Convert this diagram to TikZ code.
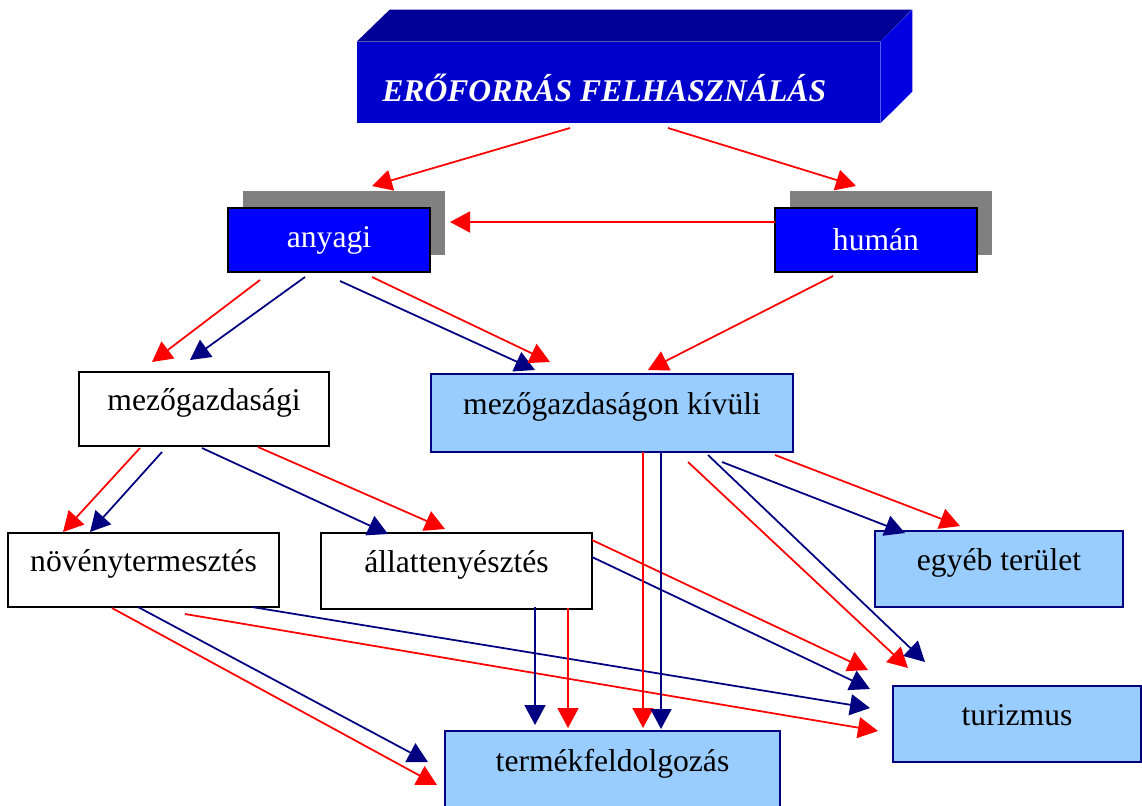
\documentclass[tikz,border=0pt]{standalone}
\usepackage{fontspec}
\setmainfont{Liberation Serif}
\usetikzlibrary{arrows.meta,calc,shadows}
\definecolor{redline}{RGB}{255,0,0}
\definecolor{navyline}{RGB}{0,0,128}
\definecolor{boxblue}{RGB}{0,0,255}
\definecolor{lightbox}{RGB}{153,204,255}
\definecolor{ttfront}{RGB}{0,0,204}
\definecolor{tttop}{RGB}{0,0,150}
\definecolor{ttside}{RGB}{0,0,225}
\begin{document}
\begin{tikzpicture}[x=0.02cm, y=-0.02cm,
		hbox/.style = {draw=black, line width=1.1pt, fill=boxblue, text=white, minimum width=4.04cm, minimum height=1.28cm, font=\fontsize{18}{22}\selectfont, drop shadow={shadow xshift=0.3cm, shadow yshift=0.34cm, fill=gray, opacity=1}},
		wbox/.style = {draw=black, line width=0.9pt, fill=white, font=\fontsize{18}{22}\selectfont, text height=13pt, text depth=11pt},
		lbox/.style = {draw=navyline, line width=0.9pt, fill=lightbox, font=\fontsize{18}{22}\selectfont, text height=13pt, text depth=11pt},
		ra/.style = {redline, line width=1pt, -{Triangle[length=0.4cm,width=0.42cm]}},
		na/.style = {navyline, line width=1pt, -{Triangle[length=0.4cm,width=0.42cm]}}]
	\useasboundingbox (0,0) rectangle (1142,805);
	% title block
	\node[fill=ttfront, minimum width=10.46cm, minimum height=1.62cm, inner sep=0pt] (eroforras) at (618.5,82.5) {};
	\fill[tttop] (eroforras.north west) -- ++(33,-32) -- ++(522,0) -- (eroforras.north east) -- cycle;
	\fill[ttside] (eroforras.north east) -- ++(32,-32) -- ++(0,82) -- (eroforras.south east) -- cycle;
	\node[anchor=base west, text=white, font=\fontsize{18}{22}\selectfont\bfseries\itshape, inner sep=0pt] (titletext) at (382,101) {ERŐFORRÁS FELHASZNÁLÁS};
	
	\node[hbox] (anyagi) at (329,240) {anyagi};
	\node[hbox] (human) at (876,240) {humán};
	\node[wbox, minimum width=5cm, minimum height=1.48cm] (mg) at (204,409) {mezőgazdasági};
	\node[lbox, minimum width=7.24cm, minimum height=1.56cm] (mgk) at (612,413) {mezőgazdaságon kívüli};
	\node[wbox, minimum width=5.42cm, minimum height=1.48cm] (noveny) at (143.5,570) {növénytermesztés};
	\node[wbox, minimum width=5.42cm, minimum height=1.52cm] (allat) at (456.5,571) {állattenyésztés};
	\node[lbox, minimum width=4.96cm, minimum height=1.52cm] (egyeb) at (999,569) {egyéb terület};
	\node[lbox, minimum width=4.96cm, minimum height=1.52cm] (tur) at (1017,724) {turizmus};
	\node[lbox, minimum width=6.7cm, minimum height=1.54cm] (termek) at (612.5,769.5) {termékfeldolgozás};
	
	\draw[ra] ($(eroforras.center)+(-48.5,45.5)$) -- ($(anyagi.center)+(43,-54)$);
	\draw[ra] ($(eroforras.center)+(49.5,45.5)$) -- ($(human.center)+(-20,-54)$);
	\draw[ra] ($(human.center)+(-101,-18)$) -- ($(anyagi.center)+(121,-18)$);
	
	\draw[ra] ($(anyagi.center)+(-69,40)$) -- ($(mg.center)+(-52,-47)$);
	\draw[na] ($(anyagi.center)+(-24,37)$) -- ($(mg.center)+(-14,-49)$);
	\draw[na] ($(anyagi.center)+(11,41)$) -- ($(mgk.center)+(-77,-43)$);
	\draw[ra] ($(anyagi.center)+(43,37)$) -- ($(mgk.center)+(-62,-51)$);
	\draw[ra] ($(human.center)+(-43,36)$) -- ($(mgk.center)+(36,-43)$);
	
	\draw[ra] ($(mg.center)+(-64,39)$) -- ($(noveny.center)+(-80.5,-38)$);
	\draw[na] ($(mg.center)+(-42,43)$) -- ($(noveny.center)+(-53.5,-38)$);
	\draw[na] ($(mg.center)+(-2,39)$) -- ($(allat.center)+(-68.5,-37)$);
	\draw[ra] ($(mg.center)+(54,38)$) -- ($(allat.center)+(-11.5,-42)$);
	
	\draw[ra] ($(noveny.center)+(-31.5,38)$) -- ($(termek.center)+(-175.5,15.5)$);
	\draw[na] ($(noveny.center)+(-5.5,37)$) -- ($(termek.center)+(-184.5,-7.5)$);
	\draw[ra] ($(noveny.center)+(41.5,44)$) -- ($(tur.center)+(-139,7)$);
	\draw[na] ($(noveny.center)+(108.5,37)$) -- ($(tur.center)+(-147,-16)$);
	
	\draw[na] ($(allat.center)+(78.5,36)$) -- ($(termek.center)+(-77.5,-44.5)$);
	\draw[ra] ($(allat.center)+(111.5,37)$) -- ($(termek.center)+(-44.5,-41.5)$);
	\draw[ra] ($(allat.center)+(135.5,-31)$) -- ($(tur.center)+(-149,-54)$);
	\draw[na] ($(allat.center)+(135.5,-14)$) -- ($(tur.center)+(-147,-35)$);
	
	\draw[ra] ($(mgk.center)+(31,39)$) -- ($(termek.center)+(30.5,-41.5)$);
	\draw[na] ($(mgk.center)+(49,39)$) -- ($(termek.center)+(48.5,-40.5)$);
	\draw[ra] ($(mgk.center)+(76,49)$) -- ($(tur.center)+(-109,-56)$);
	\draw[na] ($(mgk.center)+(96,42)$) -- ($(tur.center)+(-92,-62)$);
	\draw[na] ($(mgk.center)+(110,49)$) -- ($(egyeb.center)+(-94,-36)$);
	\draw[ra] ($(mgk.center)+(163,42)$) -- ($(egyeb.center)+(-39,-43)$);
\end{tikzpicture}
\end{document}
